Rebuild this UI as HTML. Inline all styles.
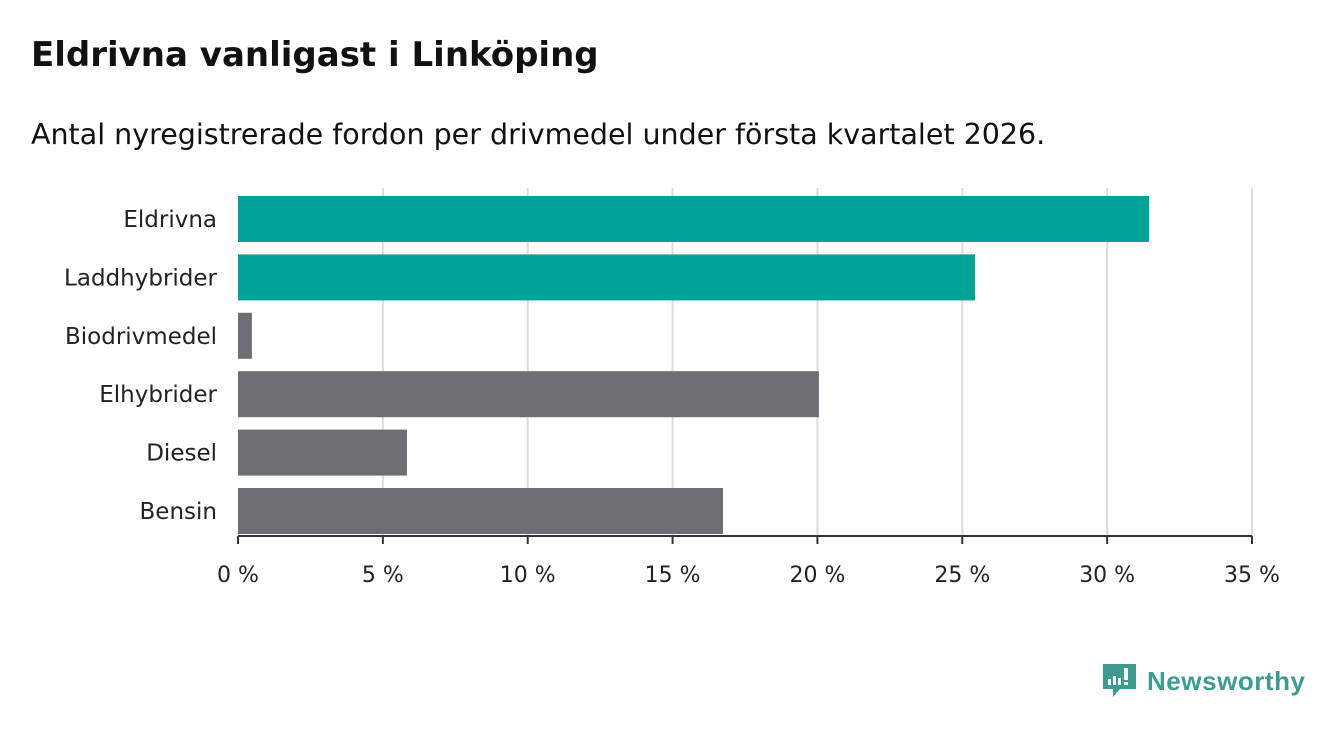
<!DOCTYPE html>
<html><head><meta charset="utf-8"><style>
body{margin:0;width:1340px;height:733px;background:#fff;font-family:"DejaVu Sans","Liberation Sans",sans-serif;overflow:hidden}
#title{position:absolute;left:31px;top:35px;font-size:34px;font-weight:bold;color:#111;margin:0;line-height:1.2}
#sub{position:absolute;left:31px;top:118px;font-size:28.5px;color:#111;margin:0;line-height:1.2}
svg{position:absolute;left:0;top:0}
svg text{font-family:"DejaVu Sans","Liberation Sans",sans-serif}
</style></head><body>
<h1 id="title">Eldrivna vanligast i Linköping</h1>
<p id="sub">Antal nyregistrerade fordon per drivmedel under första kvartalet 2026.</p>
<svg id="chart" width="1340" height="733"></svg>
<script>
const categories=["Eldrivna","Laddhybrider","Biodrivmedel","Elhybrider","Diesel","Bensin"];
const values=[31.45,25.44,0.48,20.05,5.83,16.74];
const highlighted=[true,true,false,false,false,false];
const ticks=[0,5,10,15,20,25,30,35];
const tickLabels=["0 %","5 %","10 %","15 %","20 %","25 %","30 %","35 %"];
const NS="http://www.w3.org/2000/svg";
const svg=document.getElementById('chart');
const x0=238,x1=1252,yTop=188,yBot=536,bandTop=190,band=58.4,barH=46;
const x=v=>x0+(v/35)*(x1-x0);
const y=i=>bandTop+i*band+6;
function mk(t,a){const e=document.createElementNS(NS,t);for(const k in a)e.setAttribute(k,a[k]);svg.appendChild(e);return e;}
ticks.forEach((t,i)=>{
  if(i>0){const g=mk('line',{x1:x(t),x2:x(t),y1:yTop,y2:yBot,stroke:'#dcdcdc','stroke-width':2});
  
  }
  const tk=mk('line',{x1:x(t),x2:x(t),y1:yBot,y2:yBot+8,stroke:'#333','stroke-width':2});
  
  
  const l=mk('text',{x:x(t),y:582,'text-anchor':'middle','font-size':22,fill:'#222'});
  l.textContent=tickLabels[i];
  
  
});
categories.forEach((c,i)=>{
  const r=mk('rect',{x:x0,y:y(i),width:x(values[i])-x0,height:barH,fill:highlighted[i]?'#00a398':'#6e6d73'});
  
  
  const l=mk('text',{x:217,y:y(i)+barH/2+8,'text-anchor':'end','font-size':23,fill:'#222'});
  l.textContent=c;
  
  
});
const ax=mk('line',{x1:x0,x2:x1,y1:yBot,y2:yBot,stroke:'#333','stroke-width':2});


</script>
<svg width="1340" height="733" style="pointer-events:none">
<path d="M1103 664h33v25h-16l-7 8v-8h-10z" fill="#3d9b8f"/>
<rect x="1108" y="679" width="3" height="6" fill="#fff"/><rect x="1113" y="676" width="3" height="9" fill="#fff"/><rect x="1118" y="678" width="3" height="7" fill="#fff"/><rect x="1124" y="668" width="4" height="12" fill="#fff"/><rect x="1124" y="682" width="4" height="3" fill="#fff"/>
<text x="1147" y="690" font-size="26" font-weight="bold" fill="#3d9b8f" style="font-family:'Liberation Sans',sans-serif" textLength="158">Newsworthy</text>
</svg>
</body></html>
